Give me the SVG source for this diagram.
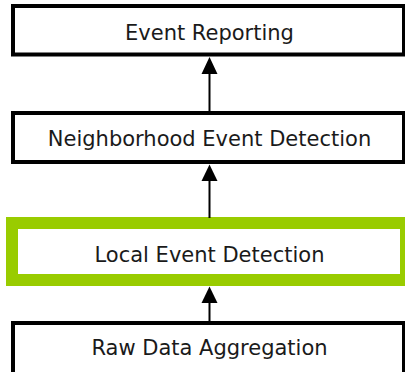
<svg xmlns="http://www.w3.org/2000/svg" width="405" height="372" viewBox="0 0 405 372">
<style>
.box{fill:#fff;stroke:#000;stroke-width:4}
.hl{fill:#fff;stroke:#99cc00;stroke-width:12}
.lbl{font-family:"DejaVu Sans",Verdana,sans-serif;font-size:21px;fill:#1a1a1a;text-anchor:middle}
.line{stroke:#000;stroke-width:2}
.head{fill:#000}
</style>
<rect width="405" height="372" fill="#fff"/>
<g id="n-event-reporting">
<rect class="box" x="13" y="6" width="391" height="48.5"/>
<text class="lbl" x="209.5" y="40">Event Reporting</text>
</g>
<g id="n-neighborhood">
<rect class="box" x="13" y="113" width="391" height="49"/>
<text class="lbl" x="209.5" y="146">Neighborhood Event Detection</text>
</g>
<g id="n-local">
<rect class="hl" x="12" y="223" width="394" height="57"/>
<text class="lbl" x="209.5" y="261.5">Local Event Detection</text>
</g>
<g id="n-raw">
<rect class="box" x="13" y="323" width="391" height="60"/>
<text class="lbl" x="209.5" y="355">Raw Data Aggregation</text>
</g>
<g id="connectors">
<line class="line" x1="209.5" y1="112" x2="209.5" y2="72"/>
<polygon class="head" points="209.5,57 201.5,74 217.5,74"/>
<line class="line" x1="209.5" y1="218" x2="209.5" y2="178"/>
<polygon class="head" points="209.5,164.5 201.5,181 217.5,181"/>
<line class="line" x1="209.5" y1="322" x2="209.5" y2="300"/>
<polygon class="head" points="209.5,286.5 201.5,303 217.5,303"/>
</g>
</svg>
